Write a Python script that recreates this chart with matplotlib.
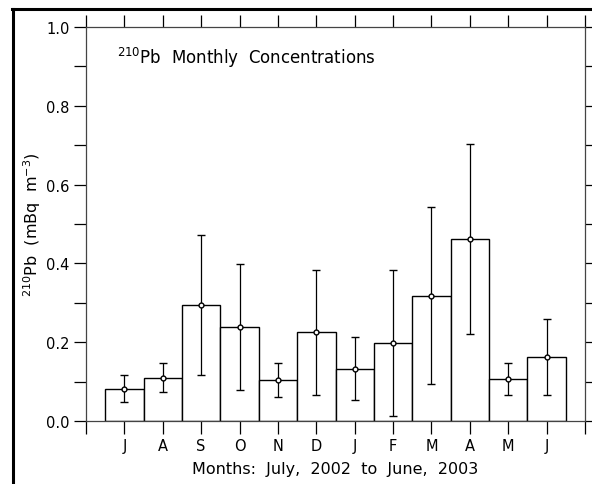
# 210Pb 月平均浓度柱状图（带误差棒）
import matplotlib
matplotlib.use("Agg")
import matplotlib.pyplot as plt
from matplotlib.lines import Line2D
import numpy as np

months = ['J', 'A', 'S', 'O', 'N', 'D', 'J', 'F', 'M', 'A', 'M', 'J']
conc = [0.082, 0.110, 0.295, 0.238, 0.104, 0.225, 0.133, 0.197, 0.318, 0.462, 0.107, 0.162]
err = [0.034, 0.036, 0.178, 0.160, 0.044, 0.159, 0.079, 0.185, 0.225, 0.241, 0.041, 0.097]

fs = 10.5  # 字体大小
matplotlib.rcParams.update({'font.size': fs, 'font.family': 'DejaVu Sans',
                            'mathtext.default': 'regular'})

fig = plt.figure(figsize=(5.92, 4.85), dpi=100)
ax = fig.add_axes([86 / 592, 63 / 485, 499 / 592, 394 / 485])

x = np.arange(1, len(months) + 1)
ax.bar(x, conc, width=1.0, color='white', edgecolor='black', lw=1.0, zorder=2)
ax.errorbar(x, conc, yerr=err, fmt='o', ms=3.5, mfc='white', mec='black', mew=1.0,
            ecolor='black', elinewidth=0.9, capsize=3, capthick=0.9, zorder=3)

ax.set_xlim(0, 13)
ax.set_ylim(0, 1.0)
ax.set_xticks(np.arange(0, 14))
ax.set_xticklabels([''] + months + [''])
ax.set_yticks(np.arange(0, 1.01, 0.2))
ax.set_yticks(np.arange(0, 1.01, 0.1), minor=True)
ax.yaxis.set_major_formatter(matplotlib.ticker.FormatStrFormatter('%.1f'))
ax.tick_params(axis='x', direction='out', length=9, width=0.9, top=True, pad=3)
ax.tick_params(axis='y', which='both', direction='out', length=9, width=0.9, right=True, pad=3)
ax.tick_params(axis='y', which='major', labelright=False)
for s in ax.spines.values():
    s.set_linewidth(0.9)
    s.set_color('#444444')

ax.text(0.062, 0.925, r'$^{210}$Pb  Monthly  Concentrations', transform=ax.transAxes,
        ha='left', va='center', fontsize=12)
ax.set_xlabel('Months:  July,  2002  to  June,  2003', fontsize=11.5, labelpad=6)
ax.set_ylabel(r'$^{210}$Pb  (mBq  m$^{-3}$)', fontsize=11.5, labelpad=2)

# 外框（左边和上边）
fig.add_artist(Line2D([13 / 592, 13 / 592], [0, 1 - 10 / 485], color='black', lw=2.2))
fig.add_artist(Line2D([12 / 592, 1], [1 - 10 / 485, 1 - 10 / 485], color='black', lw=2.2))

fig.savefig('out.png', dpi=100)
